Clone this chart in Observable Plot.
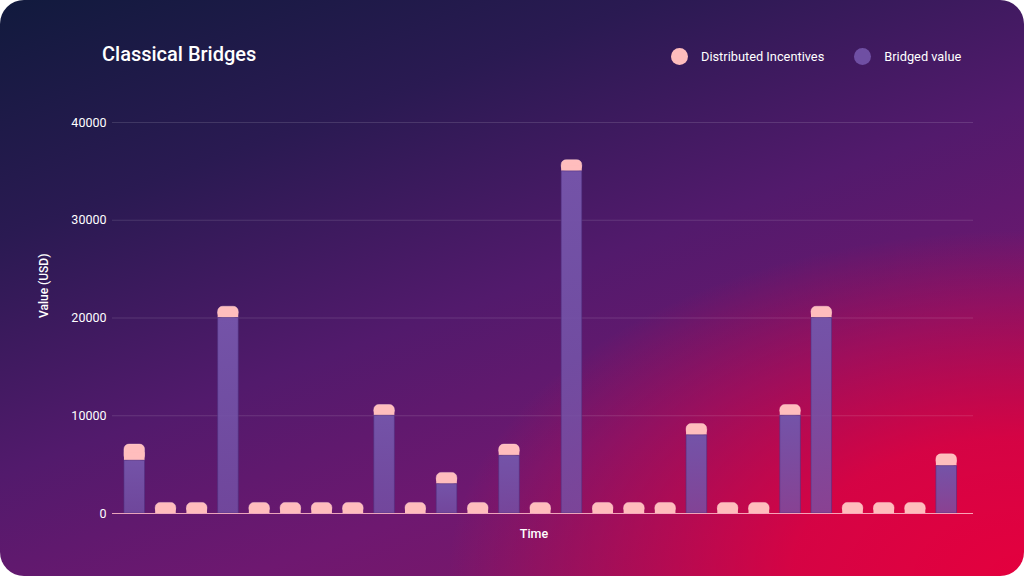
<!DOCTYPE html>
<html>
<head>
<meta charset="utf-8">
<script src="https://cdn.jsdelivr.net/npm/d3@7"></script>
<script src="https://cdn.jsdelivr.net/npm/@observablehq/plot@0.6"></script>
<style>
  html, body { margin: 0; padding: 0; background: #ffffff; }
  #card {
    position: relative; width: 1024px; height: 576px; overflow: hidden;
    border-radius: 24px;
    font-family: Roboto, "Noto Sans", sans-serif;
    background:
      radial-gradient(ellipse 75% 80% at 100% 100%, rgba(228,0,62,1) 0%, rgba(228,0,62,0.85) 30%, rgba(228,0,62,0) 75%),
      linear-gradient(160deg, #111a3d 0%, #2a1a52 25%, #521a6c 50%, #6e1870 70%, #8a1562 100%);
  }
  #title { position: absolute; left: 102px; top: 42px; font-size: 20px; font-weight: 500; color: #fff; }
  #legend { position: absolute; top: 48px; left: 671px; display: flex; align-items: center; font-size: 12.8px; color: #fff; }
  .sw { width: 17px; height: 17px; border-radius: 50%; display: inline-block; margin-right: 13px; }
  .item { display: flex; align-items: center; }
  #chart { position: absolute; left: 0; top: 0; }
</style>
</head>
<body>
<div id="card">
  <div id="title">Classical Bridges</div>
  <div id="legend">
    <div class="item" style="margin-right:30px"><span class="sw" style="background:#ffbdbd"></span>Distributed Incentives</div>
    <div class="item"><span class="sw" style="background:#6f4fa3"></span>Bridged value</div>
  </div>
  <div id="chart"></div>
</div>
<script>
const periods = Array.from({length: 27}, (_, i) => `T${i + 1}`);
const bridged = [5400, 0, 0, 20000, 0, 0, 0, 0, 10000, 0, 3000, 0, 5900, 0, 35000, 0, 0, 0, 8000, 0, 0, 10000, 20000, 0, 0, 0, 4850];
const incentives = [1650, 1080, 1080, 1150, 1080, 1080, 1080, 1080, 1100, 1080, 1150, 1080, 1150, 1080, 1150, 1080, 1080, 1080, 1150, 1080, 1080, 1100, 1150, 1080, 1080, 1080, 1200];
const yTicks = [0, 10000, 20000, 30000, 40000];

const data = periods.map((p, i) => ({period: p, bridged: bridged[i], incentive: incentives[i], total: bridged[i] + incentives[i]}));

const chart = Plot.plot({
  width: 1024,
  height: 576,
  marginLeft: 112,
  marginRight: 51,
  marginTop: 122,
  marginBottom: 63,
  style: {background: "transparent", color: "#ffffff", fontFamily: "Roboto, sans-serif", fontSize: "12px"},
  x: {domain: periods, round: false, paddingInner: 0.34, paddingOuter: 0.455, align: 0.42, axis: null, label: null},
  y: {domain: [0, 40000], label: null},
  marks: [
    Plot.gridY(yTicks, {stroke: "#ffffff", strokeOpacity: 0.13}),
    Plot.axisY(yTicks, {tickSize: 0, tickPadding: 6, tickFormat: d => String(d), fontSize: 12.5, fill: "#ffffff", label: null}),
    Plot.text(["Value (USD)"], {frameAnchor: "left", dx: -68, rotate: -90, fill: "#ffffff", fontSize: 12, fontWeight: 500}),
    Plot.text(["Time"], {frameAnchor: "bottom", dx: -9, dy: 24, fill: "#ffffff", fontSize: 12.5, fontWeight: 500}),
    // pink incentive caps (rounded top), then square lower half to hide bottom rounding
    Plot.barY(data, {x: "period", y1: "bridged", y2: "total", fill: "#ffbdbd", rx: 5, stroke: "#ffd6d6", strokeOpacity: 0.5, strokeWidth: 0.8}),
    Plot.barY(data, {x: "period", y1: "bridged", y2: d => d.bridged + d.incentive / 2, fill: "#ffbdbd"}),
    // bridged value
    Plot.barY(data.filter(d => d.bridged > 0), {x: "period", y1: 0, y2: "bridged", fill: "url(#bridgeGrad)", stroke: "#4e2f80", strokeOpacity: 0.55, strokeWidth: 1}),
    Plot.ruleY([0], {stroke: "#ffb8c6", strokeOpacity: 0.85, strokeWidth: 1})
  ]
});

const ns = "http://www.w3.org/2000/svg";
const defs = document.createElementNS(ns, "defs");
defs.innerHTML = `<linearGradient id="bridgeGrad" x1="0" y1="0" x2="0" y2="1">
  <stop offset="0%" stop-color="#7453a8" stop-opacity="1"/>
  <stop offset="100%" stop-color="#7453a8" stop-opacity="0.78"/>
</linearGradient>`;
chart.insertBefore(defs, chart.firstChild);
document.getElementById("chart").appendChild(chart);
</script>
</body>
</html>
